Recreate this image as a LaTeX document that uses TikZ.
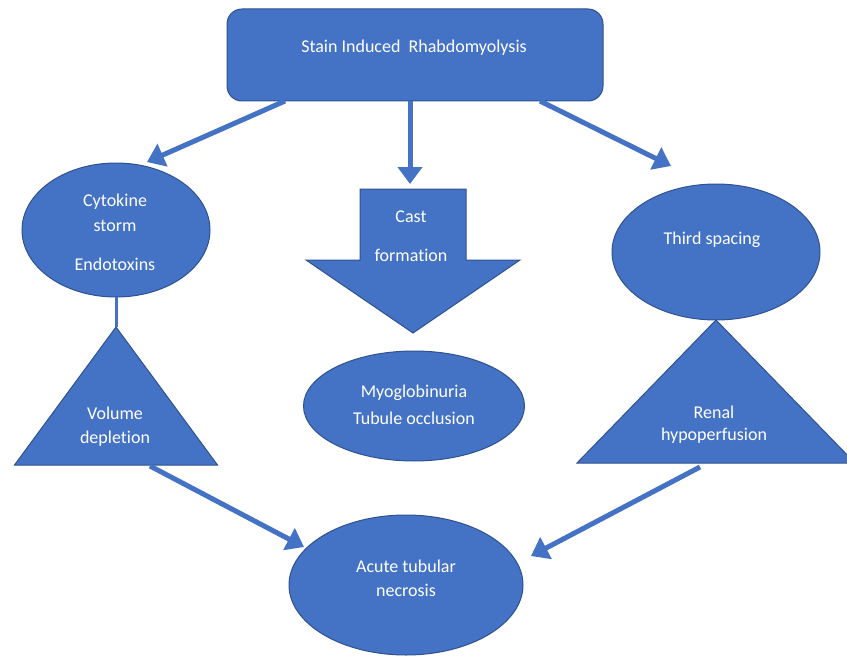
\documentclass[tikz,border=0pt]{standalone}
\usepackage{fontspec}
\setmainfont{Carlito}[Ligatures=NoCommon]
\usetikzlibrary{shapes.geometric,arrows.meta}
\definecolor{fillb}{HTML}{4472C4}
\definecolor{edgeb}{HTML}{2F528F}
\tikzset{
  shapebox/.style={fill=fillb,draw=edgeb,line width=1pt,inner sep=0pt,outer sep=0pt},
  ell/.style={shapebox,ellipse},
  tri/.style={shapebox,isosceles triangle,isosceles triangle stretches,shape border rotate=90,anchor=apex},
  txt/.style={text=white,font=\fontsize{18pt}{21pt}\selectfont,align=center,inner sep=0pt},
  flow/.style={draw=fillb,line width=5pt,-{Triangle[length=17pt,width=24pt]}},
  link/.style={draw=fillb,line width=3pt}
}
\begin{document}
\begin{tikzpicture}[x=1pt,y=-1pt]
\useasboundingbox (0,0) rectangle (847,661);
% top box
\node[shapebox,rounded corners=15pt,minimum width=376pt,minimum height=92pt] (top) at (415,55) {};
\node[txt] (toptxt) at (414,48) {Stain Induced\ \ Rhabdomyolysis};
% left ellipse
\node[ell,minimum width=188pt,minimum height=134pt] (cyt) at (116,230) {};
\node[txt] (cyt1) at (115,202) {Cytokine};
\node[txt] (cyt2) at (115,226) {storm};
\node[txt] (cyt3) at (115,264) {Endotoxins};
% left triangle
\node[tri,minimum width=203pt,minimum height=138pt] (vol) at (116,327) {};
\node[txt] (vol1) at (115,413) {Volume};
\node[txt] (vol2) at (115,439) {depletion};
% cast arrow
\path[shapebox] (360,189) -- (466,189) -- (466,260) -- (520,260) -- (413,333) -- (306,260) -- (360,260) -- cycle;
\coordinate (cast) at (413,189);
\node[txt] (cast1) at (411,217) {Cast};
\node[txt] (cast2) at (411,255) {formation};
% middle ellipse
\node[ell,minimum width=221pt,minimum height=110pt] (myo) at (414,406) {};
\node[txt] (myo1) at (414,393) {Myoglobinuria};
\node[txt] (myo2) at (414,418) {Tubule occlusion};
% right ellipse
\node[ell,minimum width=208pt,minimum height=136pt] (third) at (716,252) {};
\node[txt] (third1) at (712,240) {Third spacing};
% right triangle
\node[tri,minimum width=278pt,minimum height=143pt] (ren) at (716,320) {};
\node[txt] (ren1) at (714,412) {Renal};
\node[txt] (ren2) at (714,436) {hypoperfusion};
% bottom ellipse
\node[ell,minimum width=234pt,minimum height=140pt] (atn) at (406,585) {};
\node[txt] (atn1) at (406,566) {Acute tubular};
\node[txt] (atn2) at (406,590) {necrosis};
% connectors
\coordinate (s1) at (285,101);
\coordinate (e1) at (147,162);
\coordinate (s2) at (410,101);
\coordinate (e2) at (410,184);
\coordinate (s3) at (540,101);
\coordinate (e3) at (671,166);
\coordinate (s4) at (150,466);
\coordinate (e4) at (304,547);
\coordinate (s5) at (700,467);
\coordinate (e5) at (531,556);
\draw[flow] (s1) -- (e1);
\draw[flow] (s2) -- (e2);
\draw[flow] (s3) -- (e3);
\draw[link] (cyt.south) -- (vol.apex);
\draw[flow] (s4) -- (e4);
\draw[flow] (s5) -- (e5);
\end{tikzpicture}
\end{document}
